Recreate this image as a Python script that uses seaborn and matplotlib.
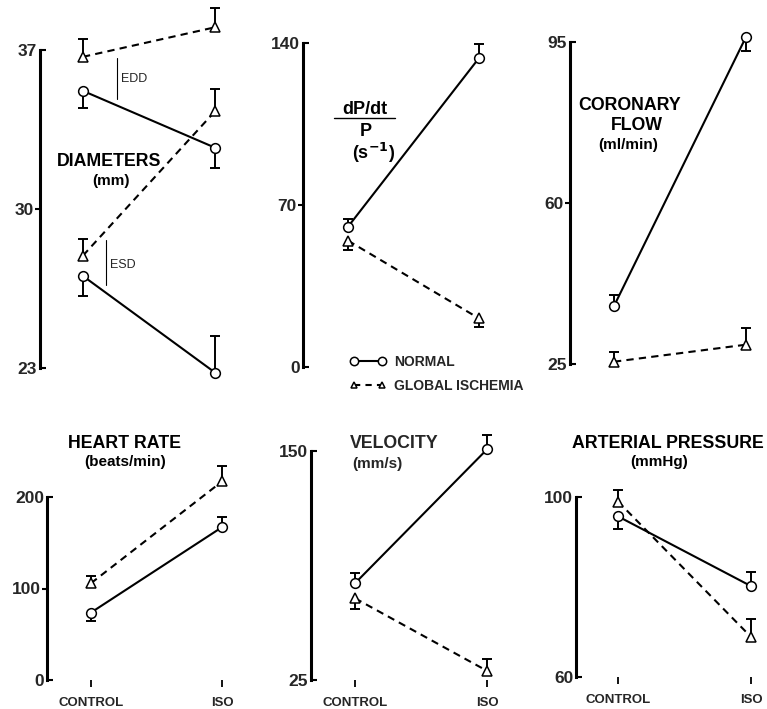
import numpy as np
import pandas as pd
import matplotlib
matplotlib.use("Agg")
import matplotlib.pyplot as plt
from matplotlib.lines import Line2D
import seaborn as sns

conditions = ["CONTROL", "ISO"]
groups = ["NORMAL", "GLOBAL ISCHEMIA"]

# group means; error = one-sided SEM (+ drawn up, - drawn down)
edd_normal = [35.2, 32.7]
edd_normal_err = [-0.75, -0.9]
edd_ischemia = [36.7, 38.0]
edd_ischemia_err = [0.8, 0.85]
esd_normal = [27.05, 22.8]
esd_normal_err = [-0.9, 1.6]
esd_ischemia = [27.95, 34.3]
esd_ischemia_err = [0.75, 1.0]

dpdt_normal = [60.6, 133.5]
dpdt_normal_err = [3.3, 6.0]
dpdt_ischemia = [54.6, 21.0]
dpdt_ischemia_err = [-4.0, -3.7]

flow_normal = [37.6, 96.1]
flow_normal_err = [2.4, -3.1]
flow_ischemia = [25.5, 29.2]
flow_ischemia_err = [2.2, 3.6]

hr_normal = [73.7, 167.0]
hr_normal_err = [-8.7, 10.7]
hr_ischemia = [105.8, 217.0]
hr_ischemia_err = [8.1, 16.6]

vel_normal = [77.8, 150.9]
vel_normal_err = [5.8, 7.8]
vel_ischemia = [69.6, 30.0]
vel_ischemia_err = [-5.6, 6.3]

ap_normal = [95.7, 80.2]
ap_normal_err = [-2.8, 3.2]
ap_ischemia = [99.0, 68.9]
ap_ischemia_err = [2.6, 3.9]

yticks_diam = [23, 30, 37]
yticks_dpdt = [0, 70, 140]
yticks_flow = [25, 60, 95]
yticks_hr = [0, 100, 200]
yticks_vel = [25, 150]
yticks_ap = [60, 100]

W, H = 767, 709
sns.set_style("white")
plt.rcParams["font.family"] = ["Liberation Sans", "DejaVu Sans"]

fig = plt.figure(figsize=(W / 100, H / 100), dpi=100)


def fx(px):
    return px / W


def fy(py):
    return 1 - py / H


def make_ax(spine_x, x_ctrl, x_iso, y_top, y_bot, ticks, bottom_row):
    right = x_iso + 25
    ax = fig.add_axes([fx(spine_x), fy(y_bot), (right - spine_x) / W, (y_bot - y_top) / H])
    span = x_iso - x_ctrl
    ax.set_xlim(-(x_ctrl - spine_x) / span, 1 + 25 / span)
    ax.set_ylim(ticks[0], ticks[-1])
    for s in ["top", "right", "bottom"]:
        ax.spines[s].set_visible(False)
    ax.spines["left"].set_linewidth(2.2)
    ax.spines["left"].set_color("black")
    # end ticks point inward, middle tick points outward
    ax.set_yticks([ticks[0], ticks[-1]], labels=[str(ticks[0]), str(ticks[-1])], minor=True)
    ax.set_yticks(ticks[1:-1], labels=[str(t) for t in ticks[1:-1]])
    ax.tick_params(axis="y", which="minor", left=True, direction="in", length=4, width=1.5,
                   labelsize=12.5, pad=2, color="black")
    ax.tick_params(axis="y", which="major", left=True, direction="out", length=3.5, width=1.5,
                   labelsize=12.5, pad=1, color="black")
    for lab in ax.get_yticklabels(which="both"):
        lab.set_fontweight("bold")
    if bottom_row:
        ax.set_xticks([0, 1], labels=conditions)
        ax.tick_params(axis="x", bottom=True, direction="out", length=5, width=1.3,
                       labelsize=9.5, pad=7, color="black")
        for lab in ax.get_xticklabels():
            lab.set_fontweight("bold")
    else:
        ax.set_xticks([])
    ax.set_xlabel("")
    ax.set_ylabel("")
    return ax


def draw_series(ax, normal, normal_err, ischemia, ischemia_err):
    rows = []
    for g, vals in zip(groups, [normal, ischemia]):
        for i, v in enumerate(vals):
            rows.append({"x": i, "value": v, "group": g})
    df = pd.DataFrame(rows)
    for vals, errs in zip([normal, ischemia], [normal_err, ischemia_err]):
        xs = np.arange(len(vals))
        vals = np.asarray(vals, dtype=float)
        errs = np.asarray(errs, dtype=float)
        lower = np.where(errs < 0, -errs, 0)
        upper = np.where(errs > 0, errs, 0)
        ax.errorbar(xs, vals, yerr=[lower, upper], fmt="none", ecolor="black",
                    elinewidth=1.4, capsize=0, zorder=2)
        ax.plot(xs, vals + errs, ls="none", marker="_", ms=6.5, mew=1.4,
                color="black", zorder=2)
    sns.lineplot(data=df, x="x", y="value", style="group", style_order=groups,
                 markers={"NORMAL": "o", "GLOBAL ISCHEMIA": "^"},
                 dashes={"NORMAL": "", "GLOBAL ISCHEMIA": (3.5, 2.5)},
                 color="black", lw=1.5, markersize=7, markerfacecolor="white",
                 markeredgecolor="black", markeredgewidth=1.1, legend=False,
                 ax=ax, zorder=3)
    ax.set_xlabel("")
    ax.set_ylabel("")
    for art in ax.lines + ax.collections:
        art.set_clip_on(False)


# top row
ax1 = make_ax(40, 83, 215, 50, 368, yticks_diam, False)
draw_series(ax1, edd_normal, edd_normal_err, edd_ischemia, edd_ischemia_err)
draw_series(ax1, esd_normal, esd_normal_err, esd_ischemia, esd_ischemia_err)

ax2 = make_ax(303, 348, 479, 43, 367, yticks_dpdt, False)
draw_series(ax2, dpdt_normal, dpdt_normal_err, dpdt_ischemia, dpdt_ischemia_err)

ax3 = make_ax(570, 614, 746, 42, 364, yticks_flow, False)
draw_series(ax3, flow_normal, flow_normal_err, flow_ischemia, flow_ischemia_err)

# bottom row
ax4 = make_ax(47, 91, 222, 497, 680, yticks_hr, True)
draw_series(ax4, hr_normal, hr_normal_err, hr_ischemia, hr_ischemia_err)

ax5 = make_ax(311, 355, 487, 451, 680, yticks_vel, True)
draw_series(ax5, vel_normal, vel_normal_err, vel_ischemia, vel_ischemia_err)

ax6 = make_ax(576, 618, 751, 497, 677, yticks_ap, True)
draw_series(ax6, ap_normal, ap_normal_err, ap_ischemia, ap_ischemia_err)

# panel labels
bold = dict(fontweight="bold", ha="center", va="center", color="black")
fig.text(fx(109), fy(162), "DIAMETERS", fontsize=12.8, **bold)
fig.text(fx(111), fy(181), "(mm)", fontsize=11, **bold)
fig.add_artist(Line2D([fx(117), fx(117)], [fy(58), fy(99)], color="black", lw=0.8,
                      transform=fig.transFigure))
fig.text(fx(121), fy(79), "EDD", fontsize=9, ha="left", va="center")
fig.add_artist(Line2D([fx(106), fx(106)], [fy(240), fy(285)], color="black", lw=0.8,
                      transform=fig.transFigure))
fig.text(fx(110), fy(265), "ESD", fontsize=9, ha="left", va="center")

fig.text(fx(365), fy(109), "dP/dt", fontsize=13, **bold)
fig.add_artist(Line2D([fx(334), fx(395)], [fy(118), fy(118)], color="black", lw=1.0,
                      transform=fig.transFigure))
fig.text(fx(366), fy(132), "P", fontsize=13, **bold)
fig.text(fx(374), fy(153), r"(s$^{\mathbf{-1}}$)", fontsize=13, **bold)

fig.text(fx(630), fy(106), "CORONARY", fontsize=12.8, **bold)
fig.text(fx(637), fy(125), "FLOW", fontsize=12.8, **bold)
fig.text(fx(628), fy(145), "(ml/min)", fontsize=11, **bold)

fig.text(fx(125), fy(443), "HEART RATE", fontsize=12.8, **bold)
fig.text(fx(125), fy(462), "(beats/min)", fontsize=11, **bold)

fig.text(fx(350), fy(443), "VELOCITY", fontsize=12.8, fontweight="bold", ha="left", va="center")
fig.text(fx(352), fy(464), "(mm/s)", fontsize=11, fontweight="bold", ha="left", va="center")

fig.text(fx(668), fy(443), "ARTERIAL PRESSURE", fontsize=12.8, **bold)
fig.text(fx(659), fy(462), "(mmHg)", fontsize=11, **bold)

# legend
handles = [
    Line2D([], [], color="black", lw=1.5, marker="o", ms=6, mfc="white", mec="black", mew=1.1),
    Line2D([], [], color="black", lw=1.5, ls=(0, (3, 2.5)), marker="^", ms=5, mfc="white",
           mec="black", mew=1.1),
]
fig.legend(handles=handles, labels=groups, numpoints=2, loc="center left",
           bbox_to_anchor=(fx(343), fy(374)), frameon=False, handlelength=2.6,
           handletextpad=0.55, labelspacing=0.7, borderpad=0,
           prop={"weight": "bold", "size": 10})

fig.savefig("out.png", dpi=100)
